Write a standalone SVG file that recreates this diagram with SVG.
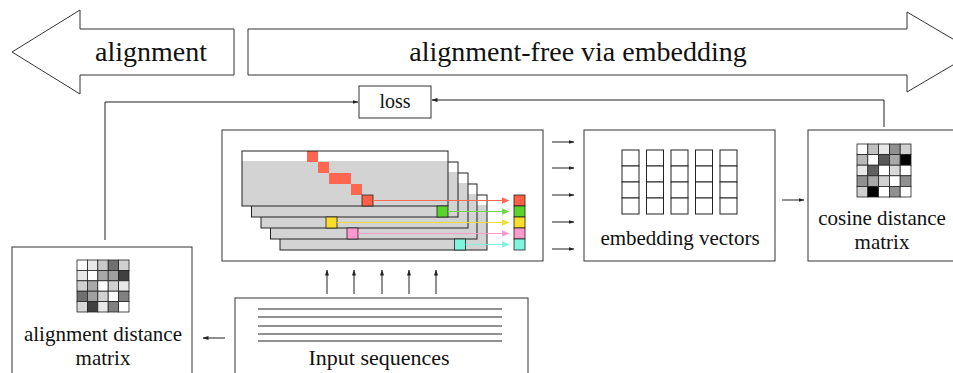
<svg xmlns="http://www.w3.org/2000/svg" width="953" height="373" viewBox="0 0 953 373">
<style>
.bx{fill:#fff;stroke:#333;stroke-width:1}
.t{font-family:"Liberation Serif","Times New Roman",serif;fill:#111;text-anchor:middle}
.ln{fill:none;stroke:#222;stroke-width:1}
.cell{stroke:#222;stroke-width:0.8}
.vec{fill:#fff;stroke:#222;stroke-width:1}
.seq{stroke:#222;stroke-width:1.2}
</style>
<defs>
<marker id="ah" markerUnits="userSpaceOnUse" markerWidth="6" markerHeight="5" refX="5.5" refY="2.5" orient="auto"><path d="M0,0.5 L6,2.5 L0,4.5 z" fill="#222"/></marker>
<marker id="ahr" markerUnits="userSpaceOnUse" markerWidth="8" markerHeight="7" refX="7.5" refY="3.5" orient="auto"><path d="M0,0 L8,3.5 L0,7 z" fill="#ff6a50"/></marker>
<marker id="ahg" markerUnits="userSpaceOnUse" markerWidth="8" markerHeight="7" refX="7.5" refY="3.5" orient="auto"><path d="M0,0 L8,3.5 L0,7 z" fill="#6fd84a"/></marker>
<marker id="ahy" markerUnits="userSpaceOnUse" markerWidth="8" markerHeight="7" refX="7.5" refY="3.5" orient="auto"><path d="M0,0 L8,3.5 L0,7 z" fill="#f5dc35"/></marker>
<marker id="ahp" markerUnits="userSpaceOnUse" markerWidth="8" markerHeight="7" refX="7.5" refY="3.5" orient="auto"><path d="M0,0 L8,3.5 L0,7 z" fill="#ff9ccc"/></marker>
<marker id="ahc" markerUnits="userSpaceOnUse" markerWidth="8" markerHeight="7" refX="7.5" refY="3.5" orient="auto"><path d="M0,0 L8,3.5 L0,7 z" fill="#7ff2e2"/></marker>
</defs>

<g id="arrow-alignment">
<path class="bx" d="M12,52 L80,10 L80,29 L234,29 L234,75 L80,75 L80,94 Z"/>
<text class="t" x="151" y="61" font-size="28">alignment</text>
</g>

<g id="arrow-alignment-free">
<path class="bx" d="M248,29 L907,29 L907,12 L975,52 L907,92 L907,75 L248,75 Z"/>
<text class="t" x="578" y="61" font-size="28">alignment-free via embedding</text>
</g>

<g id="loss">
<rect class="bx" x="359" y="86" width="72" height="32"/>
<text class="t" x="395" y="108" font-size="20">loss</text>
</g>

<g id="model">
<rect class="bx" x="222" y="130" width="321" height="131"/>
<g id="layers">
<rect x="280" y="195" width="207" height="55" fill="#fff"/><rect x="280" y="205" width="207" height="45" fill="#d3d3d3"/><rect x="280" y="195" width="207" height="55" fill="none" stroke="#222"/>
<rect x="270.5" y="184" width="206.5" height="55" fill="#fff"/><rect x="270.5" y="194" width="206.5" height="45" fill="#d3d3d3"/><rect x="270.5" y="184" width="206.5" height="55" fill="none" stroke="#222"/>
<rect x="261" y="173" width="207" height="55" fill="#fff"/><rect x="261" y="183" width="207" height="45" fill="#d3d3d3"/><rect x="261" y="173" width="207" height="55" fill="none" stroke="#222"/>
<rect x="251.5" y="162" width="206.5" height="55" fill="#fff"/><rect x="251.5" y="172" width="206.5" height="45" fill="#d3d3d3"/><rect x="251.5" y="162" width="206.5" height="55" fill="none" stroke="#222"/>
<rect x="242" y="151" width="206" height="55" fill="#fff"/><rect x="242" y="161" width="206" height="45" fill="#d3d3d3"/>
<rect x="307" y="151" width="11" height="11" fill="#ff6650"/>
<rect x="318" y="162" width="11" height="11" fill="#ff6650"/>
<rect x="329" y="173" width="22" height="11" fill="#ff6650"/>
<rect x="351" y="184" width="11" height="11" fill="#ff6650"/>
<rect x="242" y="151" width="206" height="55" fill="none" stroke="#222"/>
<rect class="cell" x="362" y="195" width="11" height="11" fill="#ff5f45"/>
<rect class="cell" x="437" y="206" width="11" height="11" fill="#5ad42a"/>
<rect class="cell" x="326" y="217" width="11" height="11" fill="#f9dd29"/>
<rect class="cell" x="347" y="228" width="11" height="11" fill="#ff99cc"/>
<rect class="cell" x="454.5" y="239" width="11" height="11" fill="#7ff5e0"/>
</g>
<g id="layer-arrows">
<line x1="373" y1="200.5" x2="509" y2="200.5" stroke="#ff6a50" stroke-width="1" marker-end="url(#ahr)"/>
<line x1="448" y1="211.5" x2="509" y2="211.5" stroke="#6fd84a" stroke-width="1" marker-end="url(#ahg)"/>
<line x1="337" y1="222.5" x2="509" y2="222.5" stroke="#f5dc35" stroke-width="1" marker-end="url(#ahy)"/>
<line x1="358" y1="233.5" x2="509" y2="233.5" stroke="#ff9ccc" stroke-width="1" marker-end="url(#ahp)"/>
<line x1="465.5" y1="244.5" x2="509" y2="244.5" stroke="#7ff2e2" stroke-width="1" marker-end="url(#ahc)"/>
</g>
<g id="output">
<rect class="cell" x="514" y="195" width="11" height="11" fill="#ff5f45"/>
<rect class="cell" x="514" y="206" width="11" height="11" fill="#5ad42a"/>
<rect class="cell" x="514" y="217" width="11" height="11" fill="#f9dd29"/>
<rect class="cell" x="514" y="228" width="11" height="11" fill="#ff99cc"/>
<rect class="cell" x="514" y="239" width="11" height="11" fill="#7ff5e0"/>
</g>
</g>

<g id="embedding-vectors">
<rect class="bx" x="584" y="130" width="191" height="131"/>
<g>
<rect class="vec" x="622" y="150" width="17" height="16"/><rect class="vec" x="622" y="166" width="17" height="16"/><rect class="vec" x="622" y="182" width="17" height="16"/><rect class="vec" x="622" y="198" width="17" height="16"/>
<rect class="vec" x="646.5" y="150" width="17" height="16"/><rect class="vec" x="646.5" y="166" width="17" height="16"/><rect class="vec" x="646.5" y="182" width="17" height="16"/><rect class="vec" x="646.5" y="198" width="17" height="16"/>
<rect class="vec" x="671" y="150" width="17" height="16"/><rect class="vec" x="671" y="166" width="17" height="16"/><rect class="vec" x="671" y="182" width="17" height="16"/><rect class="vec" x="671" y="198" width="17" height="16"/>
<rect class="vec" x="695.5" y="150" width="17" height="16"/><rect class="vec" x="695.5" y="166" width="17" height="16"/><rect class="vec" x="695.5" y="182" width="17" height="16"/><rect class="vec" x="695.5" y="198" width="17" height="16"/>
<rect class="vec" x="720" y="150" width="17" height="16"/><rect class="vec" x="720" y="166" width="17" height="16"/><rect class="vec" x="720" y="182" width="17" height="16"/><rect class="vec" x="720" y="198" width="17" height="16"/>
</g>
<text class="t" x="680" y="245" font-size="21">embedding vectors</text>
</g>

<g id="cosine-distance-matrix">
<rect class="bx" x="808" y="130" width="160" height="131"/>
<g transform="translate(857,144)">
<rect class="cell" x="0" y="0" width="10.8" height="10.6" fill="#fff"/><rect class="cell" x="10.8" y="0" width="10.8" height="10.6" fill="#c0c0c0"/><rect class="cell" x="21.6" y="0" width="10.8" height="10.6" fill="#e8e8e8"/><rect class="cell" x="32.4" y="0" width="10.8" height="10.6" fill="#909090"/><rect class="cell" x="43.2" y="0" width="10.8" height="10.6" fill="#d0d0d0"/>
<rect class="cell" x="0" y="10.6" width="10.8" height="10.6" fill="#b8b8b8"/><rect class="cell" x="10.8" y="10.6" width="10.8" height="10.6" fill="#fff"/><rect class="cell" x="21.6" y="10.6" width="10.8" height="10.6" fill="#585858"/><rect class="cell" x="32.4" y="10.6" width="10.8" height="10.6" fill="#a8a8a8"/><rect class="cell" x="43.2" y="10.6" width="10.8" height="10.6" fill="#000"/>
<rect class="cell" x="0" y="21.2" width="10.8" height="10.6" fill="#e8e8e8"/><rect class="cell" x="10.8" y="21.2" width="10.8" height="10.6" fill="#606060"/><rect class="cell" x="21.6" y="21.2" width="10.8" height="10.6" fill="#fff"/><rect class="cell" x="32.4" y="21.2" width="10.8" height="10.6" fill="#d8d8d8"/><rect class="cell" x="43.2" y="21.2" width="10.8" height="10.6" fill="#fff"/>
<rect class="cell" x="0" y="31.8" width="10.8" height="10.6" fill="#909090"/><rect class="cell" x="10.8" y="31.8" width="10.8" height="10.6" fill="#a8a8a8"/><rect class="cell" x="21.6" y="31.8" width="10.8" height="10.6" fill="#d0d0d0"/><rect class="cell" x="32.4" y="31.8" width="10.8" height="10.6" fill="#fff"/><rect class="cell" x="43.2" y="31.8" width="10.8" height="10.6" fill="#909090"/>
<rect class="cell" x="0" y="42.4" width="10.8" height="10.6" fill="#d0d0d0"/><rect class="cell" x="10.8" y="42.4" width="10.8" height="10.6" fill="#000"/><rect class="cell" x="21.6" y="42.4" width="10.8" height="10.6" fill="#fff"/><rect class="cell" x="32.4" y="42.4" width="10.8" height="10.6" fill="#909090"/><rect class="cell" x="43.2" y="42.4" width="10.8" height="10.6" fill="#fff"/>
</g>
<text class="t" x="882" y="225" font-size="21">cosine distance</text>
<text class="t" x="882" y="249" font-size="21">matrix</text>
</g>

<g id="alignment-distance-matrix">
<rect class="bx" x="12" y="247" width="180" height="140"/>
<g transform="translate(77,260)">
<rect class="cell" x="0" y="0" width="10.4" height="10.4" fill="#fff"/><rect class="cell" x="10.4" y="0" width="10.4" height="10.4" fill="#e8e8e8"/><rect class="cell" x="20.8" y="0" width="10.4" height="10.4" fill="#c8c8c8"/><rect class="cell" x="31.2" y="0" width="10.4" height="10.4" fill="#707070"/><rect class="cell" x="41.6" y="0" width="10.4" height="10.4" fill="#d0d0d0"/>
<rect class="cell" x="0" y="10.4" width="10.4" height="10.4" fill="#e8e8e8"/><rect class="cell" x="10.4" y="10.4" width="10.4" height="10.4" fill="#fff"/><rect class="cell" x="20.8" y="10.4" width="10.4" height="10.4" fill="#a8a8a8"/><rect class="cell" x="31.2" y="10.4" width="10.4" height="10.4" fill="#a0a0a0"/><rect class="cell" x="41.6" y="10.4" width="10.4" height="10.4" fill="#404040"/>
<rect class="cell" x="0" y="20.8" width="10.4" height="10.4" fill="#d0d0d0"/><rect class="cell" x="10.4" y="20.8" width="10.4" height="10.4" fill="#a8a8a8"/><rect class="cell" x="20.8" y="20.8" width="10.4" height="10.4" fill="#fff"/><rect class="cell" x="31.2" y="20.8" width="10.4" height="10.4" fill="#d0d0d0"/><rect class="cell" x="41.6" y="20.8" width="10.4" height="10.4" fill="#e8e8e8"/>
<rect class="cell" x="0" y="31.2" width="10.4" height="10.4" fill="#707070"/><rect class="cell" x="10.4" y="31.2" width="10.4" height="10.4" fill="#a0a0a0"/><rect class="cell" x="20.8" y="31.2" width="10.4" height="10.4" fill="#d0d0d0"/><rect class="cell" x="31.2" y="31.2" width="10.4" height="10.4" fill="#fff"/><rect class="cell" x="41.6" y="31.2" width="10.4" height="10.4" fill="#808080"/>
<rect class="cell" x="0" y="41.6" width="10.4" height="10.4" fill="#d8d8d8"/><rect class="cell" x="10.4" y="41.6" width="10.4" height="10.4" fill="#404040"/><rect class="cell" x="20.8" y="41.6" width="10.4" height="10.4" fill="#e8e8e8"/><rect class="cell" x="31.2" y="41.6" width="10.4" height="10.4" fill="#808080"/><rect class="cell" x="41.6" y="41.6" width="10.4" height="10.4" fill="#fff"/>
</g>
<text class="t" x="103" y="341" font-size="21">alignment distance</text>
<text class="t" x="103" y="365" font-size="21">matrix</text>
</g>

<g id="input-sequences">
<rect class="bx" x="235" y="298" width="293" height="90"/>
<line class="seq" x1="258" y1="309" x2="502" y2="309"/>
<line class="seq" x1="258" y1="317" x2="502" y2="317"/>
<line class="seq" x1="258" y1="326" x2="502" y2="326"/>
<line class="seq" x1="258" y1="334" x2="502" y2="334"/>
<line class="seq" x1="258" y1="341" x2="502" y2="341"/>
<text class="t" x="379" y="365" font-size="22">Input sequences</text>
</g>

<g id="connectors">
<path class="ln" d="M105,240 L105,102 L358,102" marker-end="url(#ah)"/>
<path class="ln" d="M884,127 L884,100 L432,100" marker-end="url(#ah)"/>
<line class="ln" x1="552" y1="142" x2="574" y2="142" marker-end="url(#ah)"/>
<line class="ln" x1="552" y1="168" x2="574" y2="168" marker-end="url(#ah)"/>
<line class="ln" x1="552" y1="195" x2="574" y2="195" marker-end="url(#ah)"/>
<line class="ln" x1="552" y1="222" x2="574" y2="222" marker-end="url(#ah)"/>
<line class="ln" x1="552" y1="249" x2="574" y2="249" marker-end="url(#ah)"/>
<line class="ln" x1="782" y1="200" x2="804" y2="200" marker-end="url(#ah)"/>
<line class="ln" x1="225" y1="338" x2="203" y2="338" marker-end="url(#ah)"/>
<line class="ln" x1="327" y1="294" x2="327" y2="270" marker-end="url(#ah)"/>
<line class="ln" x1="354" y1="294" x2="354" y2="270" marker-end="url(#ah)"/>
<line class="ln" x1="382" y1="294" x2="382" y2="270" marker-end="url(#ah)"/>
<line class="ln" x1="409" y1="294" x2="409" y2="270" marker-end="url(#ah)"/>
<line class="ln" x1="436" y1="294" x2="436" y2="270" marker-end="url(#ah)"/>
</g>
</svg>
